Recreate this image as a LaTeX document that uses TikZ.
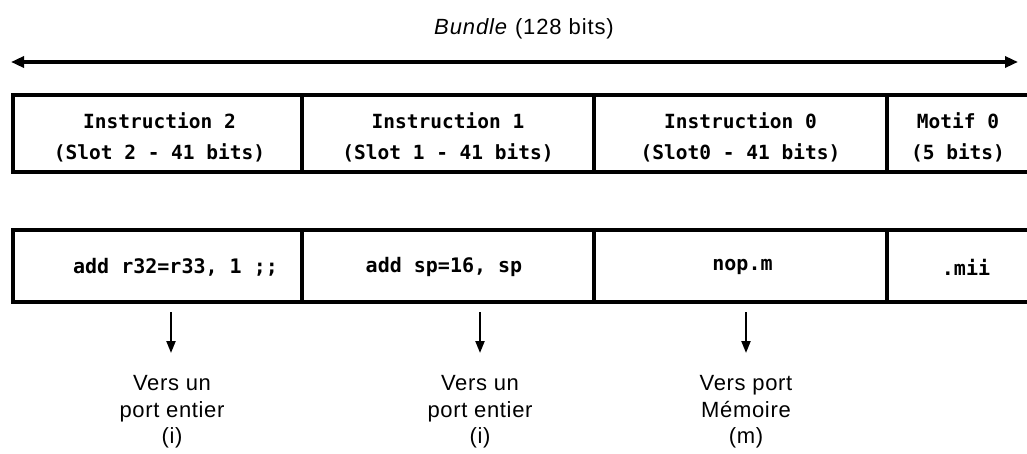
\documentclass[tikz,border=0pt]{standalone}
\usepackage{fontspec}
\setmainfont{Liberation Sans}
\setmonofont{DejaVu Sans Mono}
\usetikzlibrary{arrows.meta}
\begin{document}
\begin{tikzpicture}[x=1pt,y=-1pt,
  cell/.style={draw=black,line width=3.2pt,minimum height=77pt,inner sep=0pt,outer sep=0pt,anchor=north west},
  lowcell/.style={draw=black,line width=3.2pt,minimum height=72pt,inner sep=0pt,outer sep=0pt,anchor=north west},
  head/.style={font=\ttfamily\bfseries\fontsize{19.5}{31}\selectfont,align=center},
  code/.style={font=\ttfamily\bfseries\fontsize{20}{22}\selectfont},
  lab/.style={font=\addfontfeatures{LetterSpace=3}\fontsize{22}{26.5}\selectfont,align=center},
  bigarrow/.style={line width=3.2pt,{Triangle[length=13pt,width=11pt]}-{Triangle[length=13pt,width=11pt]}},
  downarrow/.style={line width=2.2pt,-{Triangle[length=12pt,width=9pt]}}]
\useasboundingbox (0,0) rectangle (1027,454);
\clip (0,0) rectangle (1027,454);
% title and arrow
\node[font=\addfontfeatures{LetterSpace=4}\fontsize{22}{26}\selectfont] (title) at (524,29) {\textit{Bundle} (128 bits)};
\coordinate (aL) at (11,62);
\coordinate (aR) at (1018,62);
\draw[bigarrow] (aL) -- (aR);
% top row
\node[cell,minimum width=289pt] (t2) at (13,95) {};
\node[cell,minimum width=292pt] (t1) at (302,95) {};
\node[cell,minimum width=293pt] (t0) at (594,95) {};
\node[cell,minimum width=160pt] (tm) at (887,95) {};
\node[head] at ([xshift=2pt,yshift=-4]t2.center) {Instruction 2\\(Slot 2 - 41 bits)};
\node[head] at ([yshift=-4]t1.center) {Instruction 1\\(Slot 1 - 41 bits)};
\node[head] at ([yshift=-4]t0.center) {Instruction 0\\(Slot0 - 41 bits)};
\node[head] at ([xshift=-9pt,yshift=-4]tm.center) {Motif 0\\(5 bits)};
% bottom row
\node[lowcell,minimum width=289pt] (b2) at (13,230) {};
\node[lowcell,minimum width=292pt] (b1) at (302,230) {};
\node[lowcell,minimum width=293pt] (b0) at (594,230) {};
\node[lowcell,minimum width=160pt] (bm) at (887,230) {};
\node[code] (c2) at ([xshift=18pt,yshift=-1]b2.center) {add r32=r33, 1 ;;};
\node[code] (c1) at ([xshift=-4pt,yshift=-1]b1.center) {add sp=16, sp};
\node[code] (c0) at ([xshift=2pt,yshift=-1]b0.center) {nop.m};
\node[code] (cm) at ([xshift=-1pt,yshift=-1]bm.center) {.mii};
% arrows and labels
\coordinate (s2) at (171,312);
\coordinate (s1) at (480,312);
\coordinate (s0) at (746,312);
\coordinate (e2) at (171,353);
\coordinate (e1) at (480,353);
\coordinate (e0) at (746,353);
\draw[downarrow] (s2) -- (e2);
\draw[downarrow] (s1) -- (e1);
\draw[downarrow] (s0) -- (e0);
\node[lab] (l2) at (172,412) {Vers un\\port entier\\(i)};
\node[lab] (l1) at (480,412) {Vers un\\port entier\\(i)};
\node[lab] (l0) at (746,412) {Vers port\\Mémoire\\(m)};
\end{tikzpicture}
\end{document}
